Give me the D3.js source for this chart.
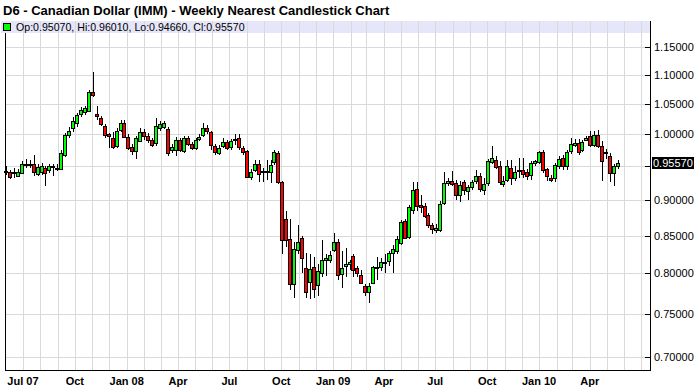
<!DOCTYPE html>
<html><head><meta charset="utf-8">
<script src="https://cdn.jsdelivr.net/npm/d3@7"></script>
<style>body{margin:0;background:#fff} svg{display:block} text{font-family:"Liberation Sans",Arial,sans-serif}</style>
</head><body><svg id="c" width="698" height="390"></svg>
<script>
const title = "D6 - Canadian Dollar (IMM) - Weekly Nearest Candlestick Chart";
const startDate = "2007-06-01";
const open = [0.943,0.942,0.940,0.936,0.9405,0.953,0.954,0.9535,0.939,0.9405,0.947,0.9435,0.950,0.948,0.947,0.968,0.999,1.010,1.018,1.034,1.036,1.039,1.071,1.034,1.026,1.014,1.000,0.995,0.982,1.006,1.019,0.996,0.980,0.9735,0.990,1.004,0.997,0.991,0.986,1.011,1.0125,1.008,0.975,0.9755,0.991,0.974,0.994,0.985,0.978,0.993,0.999,1.010,1.004,0.981,0.9715,0.9825,0.9875,0.980,0.9915,0.994,0.979,0.9735,0.934,0.9445,0.954,0.942,0.941,0.942,0.9565,0.970,0.926,0.8725,0.845,0.786,0.830,0.8465,0.807,0.7895,0.808,0.7855,0.801,0.8175,0.8185,0.831,0.8415,0.7995,0.810,0.8125,0.8225,0.807,0.7985,0.7835,0.7775,0.7885,0.808,0.8085,0.8145,0.8155,0.8265,0.829,0.840,0.8705,0.8475,0.886,0.916,0.8925,0.8915,0.878,0.8645,0.858,0.8585,0.8965,0.9245,0.9285,0.925,0.907,0.926,0.913,0.9195,0.9275,0.935,0.915,0.9245,0.957,0.9605,0.950,0.9235,0.9295,0.948,0.9325,0.9425,0.9445,0.942,0.9365,0.9545,0.956,0.9725,0.9455,0.933,0.9325,0.9505,0.963,0.9505,0.9725,0.9845,0.9865,0.9755,0.9915,0.998,0.9835,0.999,0.982,0.970,0.9665,0.9405,0.9507];
const high = [0.950,0.9445,0.947,0.946,0.958,0.961,0.960,0.968,0.954,0.955,0.951,0.954,0.954,0.953,0.975,1.002,1.012,1.028,1.035,1.045,1.046,1.074,1.105,1.047,1.030,1.017,1.003,1.004,1.010,1.0235,1.024,1.000,0.985,0.998,1.010,1.008,1.003,0.995,1.027,1.021,1.022,1.012,0.984,0.996,0.995,0.998,0.998,0.988,0.995,1.000,1.018,1.015,1.006,0.985,0.983,0.9935,0.991,0.993,1.001,1.000,0.982,0.976,0.946,0.960,0.960,0.947,0.960,0.960,0.975,0.973,0.928,0.885,0.8725,0.842,0.865,0.849,0.827,0.826,0.822,0.812,0.844,0.826,0.830,0.853,0.845,0.830,0.833,0.818,0.826,0.810,0.8045,0.787,0.788,0.810,0.821,0.820,0.826,0.830,0.838,0.849,0.871,0.873,0.893,0.927,0.927,0.907,0.896,0.882,0.868,0.866,0.898,0.942,0.932,0.943,0.930,0.928,0.930,0.922,0.930,0.945,0.940,0.932,0.961,0.981,0.966,0.958,0.935,0.960,0.960,0.950,0.963,0.9625,0.946,0.958,0.960,0.974,0.976,0.948,0.937,0.955,0.966,0.968,0.975,0.9935,0.993,0.993,0.991,0.997,1.006,1.006,1.007,0.9895,0.977,0.970,0.9535,0.9601];
const low = [0.937,0.931,0.932,0.934,0.938,0.947,0.947,0.936,0.935,0.937,0.920,0.940,0.936,0.943,0.945,0.965,0.994,1.004,1.012,1.028,1.032,1.036,1.062,1.024,1.013,0.995,0.979,0.977,0.978,1.004,0.994,0.975,0.967,0.962,0.988,0.991,0.987,0.980,0.982,1.006,1.008,0.966,0.970,0.966,0.972,0.970,0.982,0.975,0.975,0.990,0.996,1.000,0.975,0.967,0.968,0.979,0.975,0.976,0.983,0.975,0.968,0.932,0.929,0.941,0.927,0.926,0.929,0.925,0.952,0.924,0.826,0.835,0.779,0.769,0.826,0.801,0.769,0.768,0.769,0.771,0.796,0.797,0.814,0.828,0.792,0.781,0.795,0.805,0.795,0.796,0.786,0.771,0.7635,0.786,0.792,0.803,0.800,0.810,0.800,0.826,0.837,0.846,0.845,0.880,0.885,0.882,0.874,0.860,0.852,0.853,0.855,0.893,0.921,0.920,0.900,0.897,0.908,0.900,0.915,0.924,0.912,0.908,0.921,0.953,0.946,0.922,0.919,0.926,0.922,0.928,0.932,0.933,0.929,0.930,0.950,0.953,0.940,0.928,0.926,0.927,0.946,0.9445,0.9445,0.969,0.980,0.967,0.9715,0.990,0.980,0.980,0.978,0.928,0.962,0.927,0.921,0.9466];
const close = [0.942,0.935,0.941,0.942,0.9535,0.954,0.953,0.9415,0.949,0.950,0.940,0.950,0.951,0.947,0.971,0.9995,1.006,1.022,1.031,1.040,1.043,1.071,1.066,1.030,1.016,0.999,0.996,0.980,1.006,1.018,0.996,0.979,0.9735,0.994,1.004,0.997,0.990,0.983,1.014,1.017,1.019,0.970,0.980,0.991,0.976,0.994,0.985,0.978,0.991,0.9965,1.010,1.005,0.984,0.972,0.979,0.9885,0.978,0.989,0.993,0.979,0.972,0.934,0.942,0.954,0.9395,0.943,0.943,0.952,0.972,0.926,0.844,0.844,0.786,0.8315,0.841,0.8195,0.776,0.8055,0.7805,0.8035,0.8175,0.8195,0.8245,0.8415,0.7985,0.807,0.8125,0.8145,0.8045,0.8005,0.7885,0.7755,0.7845,0.8085,0.809,0.8145,0.8155,0.8265,0.832,0.8455,0.8685,0.8475,0.890,0.9147,0.8915,0.890,0.878,0.8645,0.8595,0.861,0.895,0.925,0.928,0.9235,0.907,0.922,0.914,0.919,0.9265,0.935,0.916,0.9235,0.9575,0.9635,0.9505,0.926,0.9285,0.9505,0.9325,0.9415,0.9445,0.938,0.9365,0.9545,0.9575,0.9715,0.9445,0.935,0.930,0.952,0.9615,0.9505,0.9725,0.984,0.987,0.972,0.9885,0.9945,0.983,0.999,0.982,0.9585,0.9715,0.9405,0.9505,0.9557];
const yTicks = [0.70,0.75,0.80,0.85,0.90,0.95,1.00,1.05,1.10,1.15];
const xTickDates = ["2007-07-01","2007-10-01","2008-01-01","2008-04-01","2008-07-01","2008-10-01","2009-01-01","2009-04-01","2009-07-01","2009-10-01","2010-01-01","2010-04-01"];
const xTickLabels = ["Jul 07","Oct","Jan 08","Apr","Jul","Oct","Jan 09","Apr","Jul","Oct","Jan 10","Apr"];

const parse = d3.utcParse("%Y-%m-%d");
const dates = open.map((_, i) => d3.utcWeek.offset(parse(startDate), i));
const n = open.length;

const L = 5, R = 650, T = 21, B = 370;
const svg = d3.select("#c");
const x = d3.scaleUtc().domain([dates[0], dates[n - 1]]).range([6, 618]);
const y = d3.scaleLog().domain([0.70, 1.15]).range([356.7, 47.3]);

// title
svg.append("text").attr("x", 3).attr("y", 15).attr("font-size", 13).attr("font-weight", "bold").attr("fill", "#000").text(title);

// legend band
svg.append("rect").attr("x", 1).attr("y", T).attr("width", R - 1).attr("height", 12).attr("fill", "#e6e6fa");

// grid
const months = d3.utcMonth.range(parse("2007-07-01"), parse("2010-08-01")).filter(d => x(d) < R - 1);
svg.append("g").selectAll("line").data(months).join("line")
  .attr("x1", d => Math.round(x(d)) + 0.5).attr("x2", d => Math.round(x(d)) + 0.5)
  .attr("y1", T).attr("y2", B).attr("stroke", "#d9d9d9").attr("stroke-width", 1);
svg.append("g").selectAll("line").data(yTicks).join("line")
  .attr("x1", L).attr("x2", R).attr("y1", d => Math.round(y(d)) + 0.5).attr("y2", d => Math.round(y(d)) + 0.5)
  .attr("stroke", "#d9d9d9").attr("stroke-width", 1);

// legend content
const last = n - 1;
svg.append("rect").attr("x", 3.5).attr("y", 23.5).attr("width", 7).attr("height", 7).attr("fill", "#00ff00").attr("stroke", "#000");
const f5 = d3.format(".5f");
svg.append("text").attr("x", 16).attr("y", 31).attr("font-size", 10.6).attr("fill", "#000")
  .text(`Op:${f5(open[last])}, Hi:${f5(high[last])}, Lo:${f5(low[last])}, Cl:${f5(close[last])}`);

// frame
svg.append("line").attr("x1", L + 0.5).attr("x2", L + 0.5).attr("y1", T + 12).attr("y2", B + 1).attr("stroke", "#000");
svg.append("line").attr("x1", R + 0.5).attr("x2", R + 0.5).attr("y1", T).attr("y2", B + 1).attr("stroke", "#000");
svg.append("line").attr("x1", L).attr("x2", R + 1).attr("y1", B + 0.5).attr("y2", B + 0.5).attr("stroke", "#000");

// y axis ticks & labels
const yLast = y(close[last]);
const yg = svg.append("g");
yg.selectAll("line").data(yTicks).join("line")
  .attr("x1", R - 5).attr("x2", R).attr("y1", d => Math.round(y(d)) + 0.5).attr("y2", d => Math.round(y(d)) + 0.5).attr("stroke", "#000");
yg.selectAll("text").data(yTicks.filter(t => Math.abs(y(t) - yLast) > 10)).join("text")
  .attr("x", 654).attr("y", d => y(d)).attr("dy", "0.36em").attr("font-size", 11).attr("fill", "#000")
  .text(d => f5(d));

// x labels
svg.append("g").selectAll("text").data(xTickDates).join("text")
  .attr("x", d => x(parse(d))).attr("y", 385).attr("text-anchor", "middle")
  .attr("font-size", 11).attr("font-weight", "bold").attr("fill", "#000")
  .text((d, i) => xTickLabels[i]);

// candles
const g = svg.append("g");
for (let i = 0; i < n; i++) {
  const px = Math.round(x(dates[i]));
  g.append("line").attr("x1", px + 0.5).attr("x2", px + 0.5)
    .attr("y1", Math.round(y(high[i]))).attr("y2", Math.round(y(low[i])))
    .attr("stroke", "#000").attr("stroke-width", 1);
  const yo = y(open[i]), yc = y(close[i]);
  const top = Math.round(Math.min(yo, yc));
  const h = Math.max(1, Math.round(Math.abs(yo - yc)));
  g.append("rect").attr("x", px - 1.5).attr("y", top + 0.5).attr("width", 3).attr("height", h)
    .attr("fill", close[i] >= open[i] ? "#00ff00" : "#ff0000").attr("stroke", "#000").attr("stroke-width", 1);
}

// last price label
svg.append("rect").attr("x", 652).attr("y", Math.round(yLast) - 6).attr("width", 42).attr("height", 12).attr("fill", "#000");
svg.append("text").attr("x", 653).attr("y", yLast).attr("dy", "0.36em").attr("font-size", 11).attr("fill", "#fff").text(f5(close[last]));
</script></body></html>
